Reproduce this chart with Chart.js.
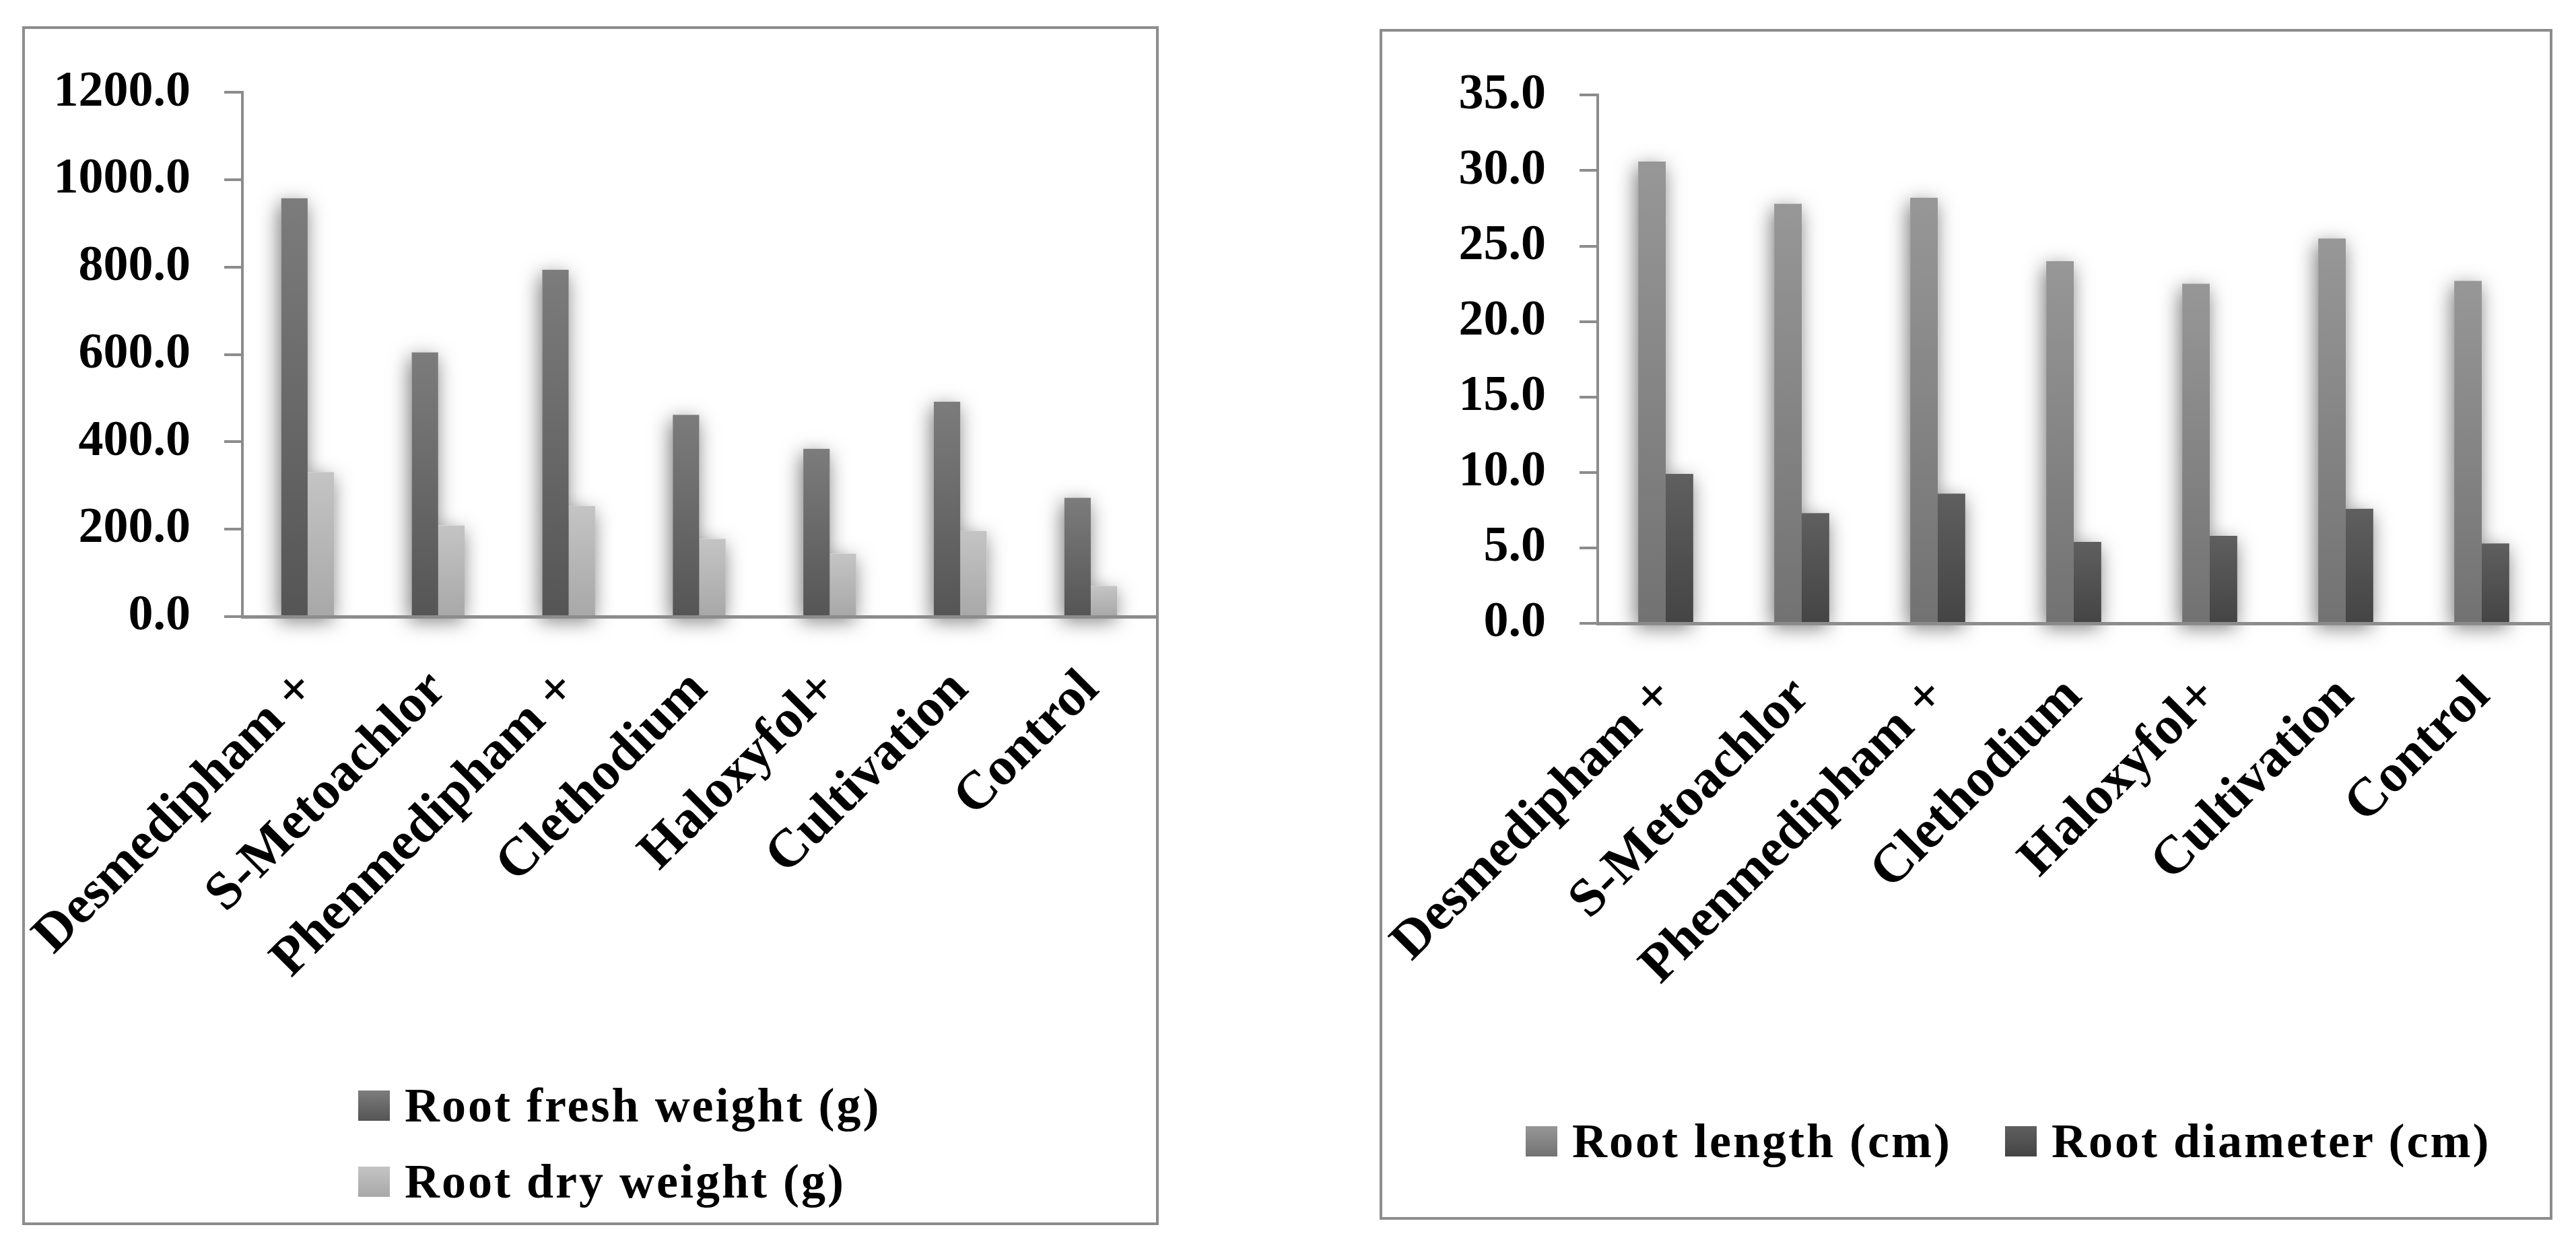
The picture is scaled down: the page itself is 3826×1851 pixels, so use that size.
<!DOCTYPE html>
<html>
<head>
<meta charset="utf-8">
<script src="https://cdn.jsdelivr.net/npm/chart.js@4.4.0/dist/chart.umd.min.js"></script>
<style>
html,body{margin:0;padding:0;background:#fff;width:3826px;height:1851px;overflow:hidden;position:relative;}
.frame{position:absolute;border:4px solid #8c8c8c;box-sizing:border-box;background:#fff;}
.frame canvas{position:absolute;left:0;top:0;}
.leg{position:absolute;display:flex;align-items:center;height:72px;font:bold 72px "Liberation Serif",serif;letter-spacing:3px;line-height:72px;color:#000;white-space:nowrap;z-index:2;}
.sw{width:47px;height:45px;margin-right:22px;flex:none;}
</style>
</head>
<body>
<div class="frame" id="f1" style="left:33px;top:39px;width:1688px;height:1781px;"><canvas id="c1" width="1680" height="1773"></canvas></div>
<div class="frame" id="f2" style="left:2049px;top:43px;width:1742px;height:1769px;"><canvas id="c2" width="1734" height="1761"></canvas></div>

<div class="leg" style="left:532px;top:1606px;"><div class="sw" style="background:linear-gradient(#7c7c7c,#555555);"></div><span id="l1a"></span></div>
<div class="leg" style="left:532px;top:1719px;"><div class="sw" style="background:linear-gradient(#c4c4c4,#a8a8a8);"></div><span id="l1b"></span></div>
<div class="leg" style="left:2266px;top:1659px;"><div class="sw" style="background:linear-gradient(#979797,#727272);"></div><span id="l2a"></span></div>
<div class="leg" style="left:2978px;top:1659px;"><div class="sw" style="background:linear-gradient(#5f5f5f,#444444);"></div><span id="l2b"></span></div>

<script>
// ---- data ----
const categories = ["Desmedipham +", "S-Metoachlor", "Phenmedipham +", "Clethodium", "Haloxyfol+", "Cultivation", "Control"];
const freshWeight = [958, 605, 794, 462, 384, 492, 272];
const dryWeight = [331, 209, 253, 178, 144, 196, 70];
const rootLength = [30.6, 27.8, 28.2, 24.0, 22.5, 25.5, 22.7];
const rootDiameter = [9.9, 7.3, 8.6, 5.4, 5.8, 7.6, 5.3];
const seriesNamesLeft = ["Root fresh weight (g)", "Root dry weight (g)"];
const seriesNamesRight = ["Root length (cm)", "Root diameter (cm)"];

document.getElementById('l1a').textContent = seriesNamesLeft[0];
document.getElementById('l1b').textContent = seriesNamesLeft[1];
document.getElementById('l2a').textContent = seriesNamesRight[0];
document.getElementById('l2b').textContent = seriesNamesRight[1];

function barGradient(top, bottom) {
  return (ctx) => {
    const chart = ctx.chart;
    const y = chart.scales && chart.scales.y;
    if (!y || ctx.type !== 'data') return bottom;
    const y0 = y.getPixelForValue(0), y1 = y.getPixelForValue(ctx.raw);
    if (!isFinite(y0) || !isFinite(y1) || Math.abs(y0 - y1) < 1) return bottom;
    const g = chart.ctx.createLinearGradient(0, y1, 0, y0);
    g.addColorStop(0, top);
    g.addColorStop(1, bottom);
    return g;
  };
}

const shadowPlugin = {
  id: 'barShadow',
  beforeDatasetsDraw(chart) {
    const c = chart.ctx;
    c.save();
    c.shadowColor = 'rgba(0,0,0,0.55)';
    c.shadowBlur = 30;
    c.shadowOffsetX = -3;
    c.shadowOffsetY = 8;
    c.fillStyle = '#ffffff';
    chart.data.datasets.forEach((ds, i) => {
      const meta = chart.getDatasetMeta(i);
      meta.data.forEach(el => {
        const p = el.getProps(['x', 'y', 'base', 'width'], true);
        c.fillRect(p.x - p.width / 2, p.y, p.width, p.base - p.y);
      });
    });
    c.restore();
  }
};

const axisGray = '#8c8c8c';
const serif = '"Liberation Serif", serif';

function makeChart(canvasId, ds, yMax, yStep, yWidth, xHeight, topPad) {
  return new Chart(document.getElementById(canvasId), {
    type: 'bar',
    data: { labels: categories, datasets: ds },
    plugins: [shadowPlugin],
    options: {
      responsive: false,
      devicePixelRatio: 1,
      animation: false,
      events: [],
      layout: { padding: { top: topPad, left: 0, right: 0, bottom: 0 } },
      plugins: { legend: { display: false }, tooltip: { enabled: false } },
      datasets: { bar: { categoryPercentage: 0.405, barPercentage: 1.0, borderWidth: 0, clip: false } },
      scales: {
        x: {
          grid: { display: false, drawTicks: false },
          border: { display: true, color: axisGray, width: 5, z: 1 },
          ticks: {
            autoSkip: false, maxRotation: 45, minRotation: 45, padding: 62,
            color: '#000', font: { family: serif, size: 80, weight: 'bold' }
          },
          afterFit(scale) { scale.height = xHeight; scale.paddingLeft = 0; scale.paddingRight = 0; }
        },
        y: {
          min: 0, max: yMax,
          grid: { drawOnChartArea: false, drawTicks: true, tickLength: 27, color: axisGray, lineWidth: 4 },
          border: { display: true, color: axisGray, width: 4 },
          ticks: {
            stepSize: yStep, padding: 50, color: '#000',
            font: { family: serif, size: 74, weight: 'bold' },
            callback: (v) => Number(v).toFixed(1)
          },
          afterFit(scale) { scale.width = yWidth; }
        }
      }
    }
  });
}

makeChart('c1', [
  { label: seriesNamesLeft[0], data: freshWeight, backgroundColor: barGradient('#7c7c7c', '#555555') },
  { label: seriesNamesLeft[1], data: dryWeight, backgroundColor: barGradient('#c4c4c4', '#a8a8a8') }
], 1200, 200, 323, 900, 87);

makeChart('c2', [
  { label: seriesNamesRight[0], data: rootLength, backgroundColor: barGradient('#979797', '#727272') },
  { label: seriesNamesRight[1], data: rootDiameter, backgroundColor: barGradient('#5f5f5f', '#444444') }
], 35, 5, 320, 882, 89);
</script>
</body>
</html>
